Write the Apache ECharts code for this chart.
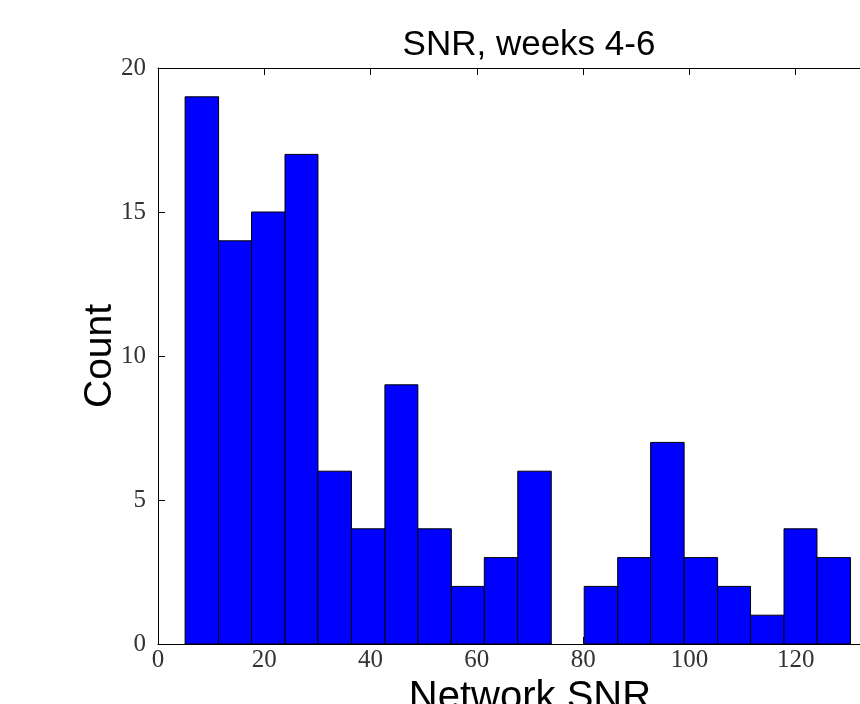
<!DOCTYPE html>
<html><head><meta charset="utf-8">
<script src="https://cdn.jsdelivr.net/npm/echarts@6/dist/echarts.min.js"></script>
<style>html,body{margin:0;padding:0;background:#fff;overflow:hidden;width:860px;height:704px}#c{width:950px;height:704px}</style>
</head><body><div id="c"></div>
<script>
// Histogram bin edges (Network SNR) and counts per bin
var binEdges = [5.1, 11.4, 17.6, 23.9, 30.1, 36.4, 42.7, 48.9, 55.2, 61.4, 67.7, 74.0, 80.2, 86.5, 92.7, 99.0, 105.3, 111.5, 117.8, 124.0, 130.3];
var counts = [19, 14, 15, 17, 6, 4, 9, 4, 2, 3, 6, 0, 2, 3, 7, 3, 2, 1, 4, 3];
var xTicks = [0, 20, 40, 60, 80, 100, 120, 140];
var yTicks = [0, 5, 10, 15, 20];

var data = counts.map(function (c, i) { return [binEdges[i], binEdges[i + 1], c]; });
var serif = 'Liberation Serif';
var sans = 'Liberation Sans';
var chart = echarts.init(document.getElementById('c'));
var axisLine = { show: true, lineStyle: { color: '#000', width: 1 } };
chart.setOption({
  animation: false,
  title: {
    text: 'SNR, weeks 4-6', left: 524, top: 23, textAlign: 'center',
    textStyle: { fontFamily: sans, fontSize: 35, fontWeight: 'normal', color: '#000' }
  },
  grid: { left: 158, right: 48, top: 68, bottom: 60, containLabel: false, outerBoundsMode: 'none' },
  xAxis: [{
    type: 'value', min: xTicks[0], max: xTicks[xTicks.length - 1], interval: 20, position: 'bottom',
    axisLine: axisLine,
    axisTick: { show: true, inside: true, length: 7, lineStyle: { color: '#000' } },
    axisLabel: { fontFamily: serif, fontSize: 25, color: '#333', margin: 4 },
    splitLine: { show: false },
    name: 'Network SNR', nameLocation: 'middle', nameGap: 34, nameMoveOverlap: false,
    nameTextStyle: { fontFamily: sans, fontSize: 40, color: '#000' }
  }, {
    type: 'value', min: xTicks[0], max: xTicks[xTicks.length - 1], interval: 20, position: 'top',
    axisLine: axisLine,
    axisTick: { show: true, inside: true, length: 7, lineStyle: { color: '#000' } },
    axisLabel: { show: false }, splitLine: { show: false }
  }],
  yAxis: [{
    type: 'value', min: yTicks[0], max: yTicks[yTicks.length - 1], interval: 5,
    axisLine: axisLine,
    axisTick: { show: true, inside: true, length: 7, lineStyle: { color: '#000' } },
    axisLabel: { fontFamily: serif, fontSize: 25, color: '#333', margin: 12 },
    splitLine: { show: false },
    name: 'Count', nameLocation: 'middle', nameGap: 38, nameRotate: 90, nameMoveOverlap: false,
    nameTextStyle: { fontFamily: sans, fontSize: 39, color: '#000' }
  }],
  series: [{
    type: 'custom',
    data: data,
    encode: { x: [0, 1], y: 2 },
    renderItem: function (params, api) {
      if (api.value(2) <= 0) return null;
      var p0 = api.coord([api.value(0), 0]);
      var p1 = api.coord([api.value(1), api.value(2)]);
      return {
        type: 'rect',
        shape: { x: p0[0], y: p1[1], width: p1[0] - p0[0], height: p0[1] - p1[1] },
        style: { fill: '#0000ff', stroke: '#000', lineWidth: 1 }
      };
    }
  }]
});
</script>
</body></html>
